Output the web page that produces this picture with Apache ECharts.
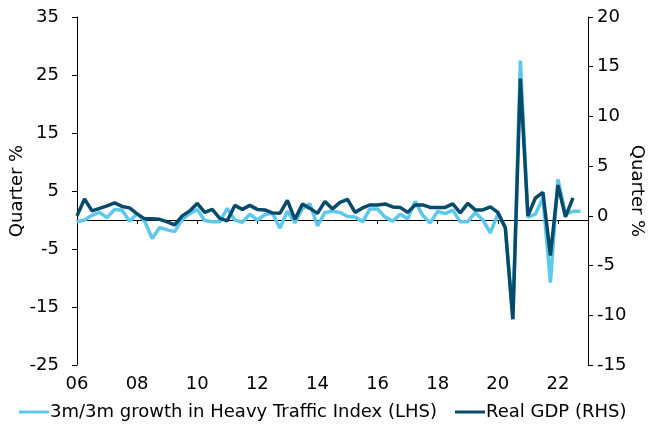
<!DOCTYPE html>
<html>
<head>
<meta charset="utf-8">
<script src="https://cdn.jsdelivr.net/npm/echarts@6/dist/echarts.min.js"></script>
<style>
  html, body { margin: 0; padding: 0; background: #fff; }
  #chart { width: 649px; height: 428px; }
</style>
</head>
<body>
<div id="chart"></div>
<script>
// quarterly data, first point = 2006 Q1
var startYear = 2006;
var yearTicks = ['06', '08', '10', '12', '14', '16', '18', '20', '22'];

// 3m/3m growth in Heavy Traffic Index, % (left axis)
var traffic = [
    -0.3, 0.0, 0.8, 1.3, 0.4, 1.8, 1.7, -0.2,
    1.1, -0.2, -3.2, -1.3, -1.7, -2.0, 0.1, 1.1,
    1.8, -0.1, -0.3, -0.3, 2.0, 0.0, -0.4, 1.0,
    0.0, 0.9, 1.2, -1.4, 1.5, -0.5, 2.0, 2.8,
    -1.0, 1.3, 1.5, 1.3, 0.6, 0.5, -0.3, 1.9,
    1.9, 0.5, -0.2, 1.0, 0.2, 3.2, 0.8, -0.5,
    1.5, 1.1, 1.7, -0.3, -0.3, 1.3, 0.0, -2.2,
    1.0, -1.3, -17.0, 27.5, 0.5, 1.0, 3.8, -10.8,
    7.0, 1.0, 1.5, 1.5
];

// Real GDP q/q, % (right axis)
var gdp = [
    0.0, 1.7, 0.5, 0.75, 1.0, 1.3, 0.95, 0.8,
    0.2, -0.3, -0.3, -0.35, -0.6, -0.9, 0.0, 0.5,
    1.25, 0.35, 0.65, -0.25, -0.5, 1.05, 0.65, 1.05,
    0.65, 0.6, 0.3, 0.25, 1.55, -0.35, 1.2, 0.75,
    0.25, 1.45, 0.7, 1.35, 1.65, 0.35, 0.8, 1.1,
    1.1, 1.2, 0.9, 0.85, 0.35, 1.1, 1.1, 0.85,
    0.85, 0.85, 1.2, 0.3, 1.25, 0.6, 0.6, 0.9,
    0.35, -1.2, -10.4, 13.8, 0.0, 1.8, 2.35, -4.0,
    3.1, -0.1, 1.8
];

var seriesNames = ['3m/3m growth in Heavy Traffic Index (LHS)', 'Real GDP (RHS)'];

// pair each value with its quarter on the time axis
function toPoints(arr) {
    return arr.map(function(v, i){ return [startYear + i / 4, v]; });
}

var font = 'DejaVu Sans, Verdana, sans-serif';
var fs = 18;
var lightBlue = '#5cc8ec';
var darkBlue = '#064a6c';

var myChart = echarts.init(document.getElementById('chart'));
var option = {
    animation: false,
    textStyle: { fontFamily: font },
    grid: { left: 77, right: 61, top: 17, bottom: 63, containLabel: false, outerBoundsMode: 'none' },
    legend: {
        left: 14,
        bottom: 2,
        icon: 'rect',
        itemWidth: 30,
        itemHeight: 3,
        itemGap: 18,
        textStyle: { fontFamily: font, fontSize: fs, color: '#000', padding: [0, 0, 0, -4] },
        data: [
            { name: seriesNames[0], itemStyle: { color: lightBlue } },
            { name: seriesNames[1], itemStyle: { color: darkBlue } }
        ]
    },
    xAxis: [
        {
            // axis line through zero with the year ticks
            type: 'value',
            min: 2006,
            max: 2023,
            interval: 2,
            axisLine: { onZero: true, lineStyle: { color: '#000', width: 1 } },
            axisTick: { show: true, length: 4, lineStyle: { color: '#000' } },
            splitLine: { show: false },
            axisLabel: { show: false }
        },
        {
            // year labels along the bottom of the plot
            type: 'value',
            position: 'bottom',
            min: 2006,
            max: 2023,
            interval: 2,
            axisLine: { show: false, onZero: false },
            axisTick: { show: false },
            splitLine: { show: false },
            axisLabel: {
                color: '#000',
                fontSize: fs,
                fontFamily: font,
                margin: 10,
                showMaxLabel: false,
                formatter: function(v){
                    var s = String(v).slice(2);
                    return yearTicks.indexOf(s) >= 0 ? s : '';
                }
            }
        }
    ],
    yAxis: [
        {
            type: 'value',
            min: -25, max: 35, interval: 10,
            name: 'Quarter %',
            nameLocation: 'middle',
            nameGap: 51,
            nameMoveOverlap: false,
            nameTextStyle: { color: '#000', fontSize: fs, fontFamily: font },
            axisLine: { show: true, lineStyle: { color: '#000' } },
            axisTick: { show: true, length: 5, lineStyle: { color: '#000' } },
            splitLine: { show: false },
            axisLabel: { color: '#000', fontSize: fs, fontFamily: font, margin: 18 }
        },
        {
            type: 'value',
            min: -15, max: 20, interval: 5,
            name: 'Quarter %',
            nameLocation: 'middle',
            nameGap: 40,
            nameRotate: -90,
            nameMoveOverlap: false,
            nameTextStyle: { color: '#000', fontSize: fs, fontFamily: font },
            axisLine: { show: true, lineStyle: { color: '#000' } },
            axisTick: { show: true, length: 5, lineStyle: { color: '#000' } },
            splitLine: { show: false },
            axisLabel: { color: '#000', fontSize: fs, fontFamily: font, margin: 9 }
        }
    ],
    series: [
        {
            name: seriesNames[0],
            type: 'line',
            xAxisIndex: 0,
            yAxisIndex: 0,
            showSymbol: false,
            lineStyle: { color: lightBlue, width: 3.5 },
            itemStyle: { color: lightBlue },
            data: toPoints(traffic)
        },
        {
            name: seriesNames[1],
            type: 'line',
            xAxisIndex: 0,
            yAxisIndex: 1,
            showSymbol: false,
            lineStyle: { color: darkBlue, width: 3.5 },
            itemStyle: { color: darkBlue },
            data: toPoints(gdp)
        }
    ]
};

myChart.setOption(option);
</script>
</body>
</html>
